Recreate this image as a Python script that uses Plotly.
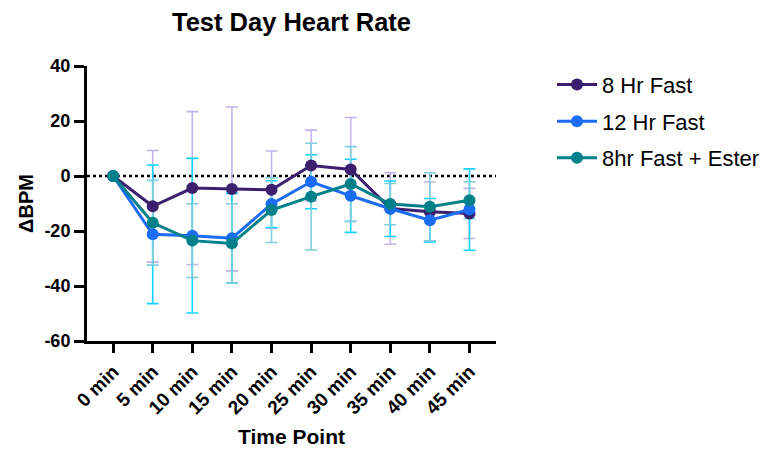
import plotly.graph_objects as go

# Time points on the x axis
time_points = ["0 min", "5 min", "10 min", "15 min", "20 min",
               "25 min", "30 min", "35 min", "40 min", "45 min"]

# Y axis ticks
y_ticks = [-60, -40, -20, 0, 20, 40]
y_tick_labels = ["-60", "-40", "-20", "0", "20", "40"]

# Change in heart rate (BPM) from baseline, mean and SD per group
fast8_mean = [0, -11.0, -4.4, -4.7, -5.0, 3.8, 2.4, -11.8, -13.0, -13.6]
fast8_sd = [0, 20.3, 27.8, 29.8, 14.1, 12.9, 18.9, 13.0, 10.8, 9.1]

fast12_mean = [0, -21.2, -21.7, -22.6, -10.2, -2.1, -7.2, -11.9, -16.1, -12.2]
fast12_sd = [0, 25.2, 28.1, 16.3, 8.5, 9.8, 13.3, 10.1, 7.9, 14.8]

ester_mean = [0, -17.0, -23.5, -24.5, -12.4, -7.5, -2.9, -10.2, -11.2, -8.8]
ester_sd = [0, 15.4, 13.4, 14.4, 11.8, 19.4, 13.6, 7.5, 12.4, 6.7]

series = [
    ("8 Hr Fast", fast8_mean, fast8_sd, "#3b1f6e", "#c4b3e8"),
    ("12 Hr Fast", fast12_mean, fast12_sd, "#1a6cf2", "#12d3fb"),
    ("8hr Fast + Ester", ester_mean, ester_sd, "#00818a", "#7ccfdc"),
]

FONT = "Arial, Liberation Sans, Helvetica, sans-serif"

fig = go.Figure()

# Error bars first so that every line and marker sits on top of them
for name, mean, sd, line_col, err_col in series:
    fig.add_trace(go.Scatter(
        x=time_points, y=mean, mode="markers",
        marker=dict(size=1, opacity=0),
        error_y=dict(type="data", array=sd, visible=True,
                     color=err_col, thickness=1.6, width=6),
        showlegend=False, hoverinfo="skip",
    ))

for i, (name, mean, sd, line_col, err_col) in enumerate(series):
    fig.add_trace(go.Scatter(
        x=time_points, y=mean, mode="lines+markers", name=name,
        line=dict(color=line_col, width=3),
        marker=dict(color=line_col, size=12),
        legendgroup=f"g{i}",
    ))

# Dotted reference line at zero change
fig.add_shape(type="line", xref="paper", x0=0, x1=1, yref="y", y0=0, y1=0,
              line=dict(color="black", width=2.5, dash="dot"), layer="below")

fig.update_layout(
    width=762, height=452,
    margin=dict(l=87, r=266, t=66, b=111, autoexpand=False),
    paper_bgcolor="white", plot_bgcolor="white",
    font=dict(family=FONT, color="black"),
    title=dict(text="<b>Test Day Heart Rate</b>", x=0.5, xref="paper",
               y=1 - 22 / 452, yref="container", yanchor="middle",
               xanchor="center", font=dict(size=25.5, color="black")),
    legend=dict(x=(552 - 87) / 409, xanchor="left", y=1.008, yanchor="top",
                font=dict(size=22, color="black"), traceorder="grouped",
                tracegroupgap=5, itemwidth=40, bgcolor="rgba(0,0,0,0)"),
    showlegend=True,
)

fig.update_xaxes(
    type="category", range=[-0.66, 9.67], automargin=False,
    showline=True, linecolor="black", linewidth=3,
    ticks="outside", ticklen=9, tickwidth=3, tickcolor="black",
    tickangle=-45,
    tickfont=dict(size=19, family=FONT, color="black", weight="bold"),
    showgrid=False, zeroline=False,
    title=dict(text="<b>Time Point</b>", font=dict(size=21), standoff=12),
)

fig.update_yaxes(
    range=[-60, 40], tickvals=y_ticks, ticktext=y_tick_labels, automargin=False,
    showline=True, linecolor="black", linewidth=3,
    ticks="outside", ticklen=10, tickwidth=3, tickcolor="black",
    tickfont=dict(size=18, family=FONT, color="black", weight="bold"),
    showgrid=False, zeroline=False,
    title=dict(text="<b>ΔBPM</b>", font=dict(size=20), standoff=6),
)

fig.write_html("out.html")
